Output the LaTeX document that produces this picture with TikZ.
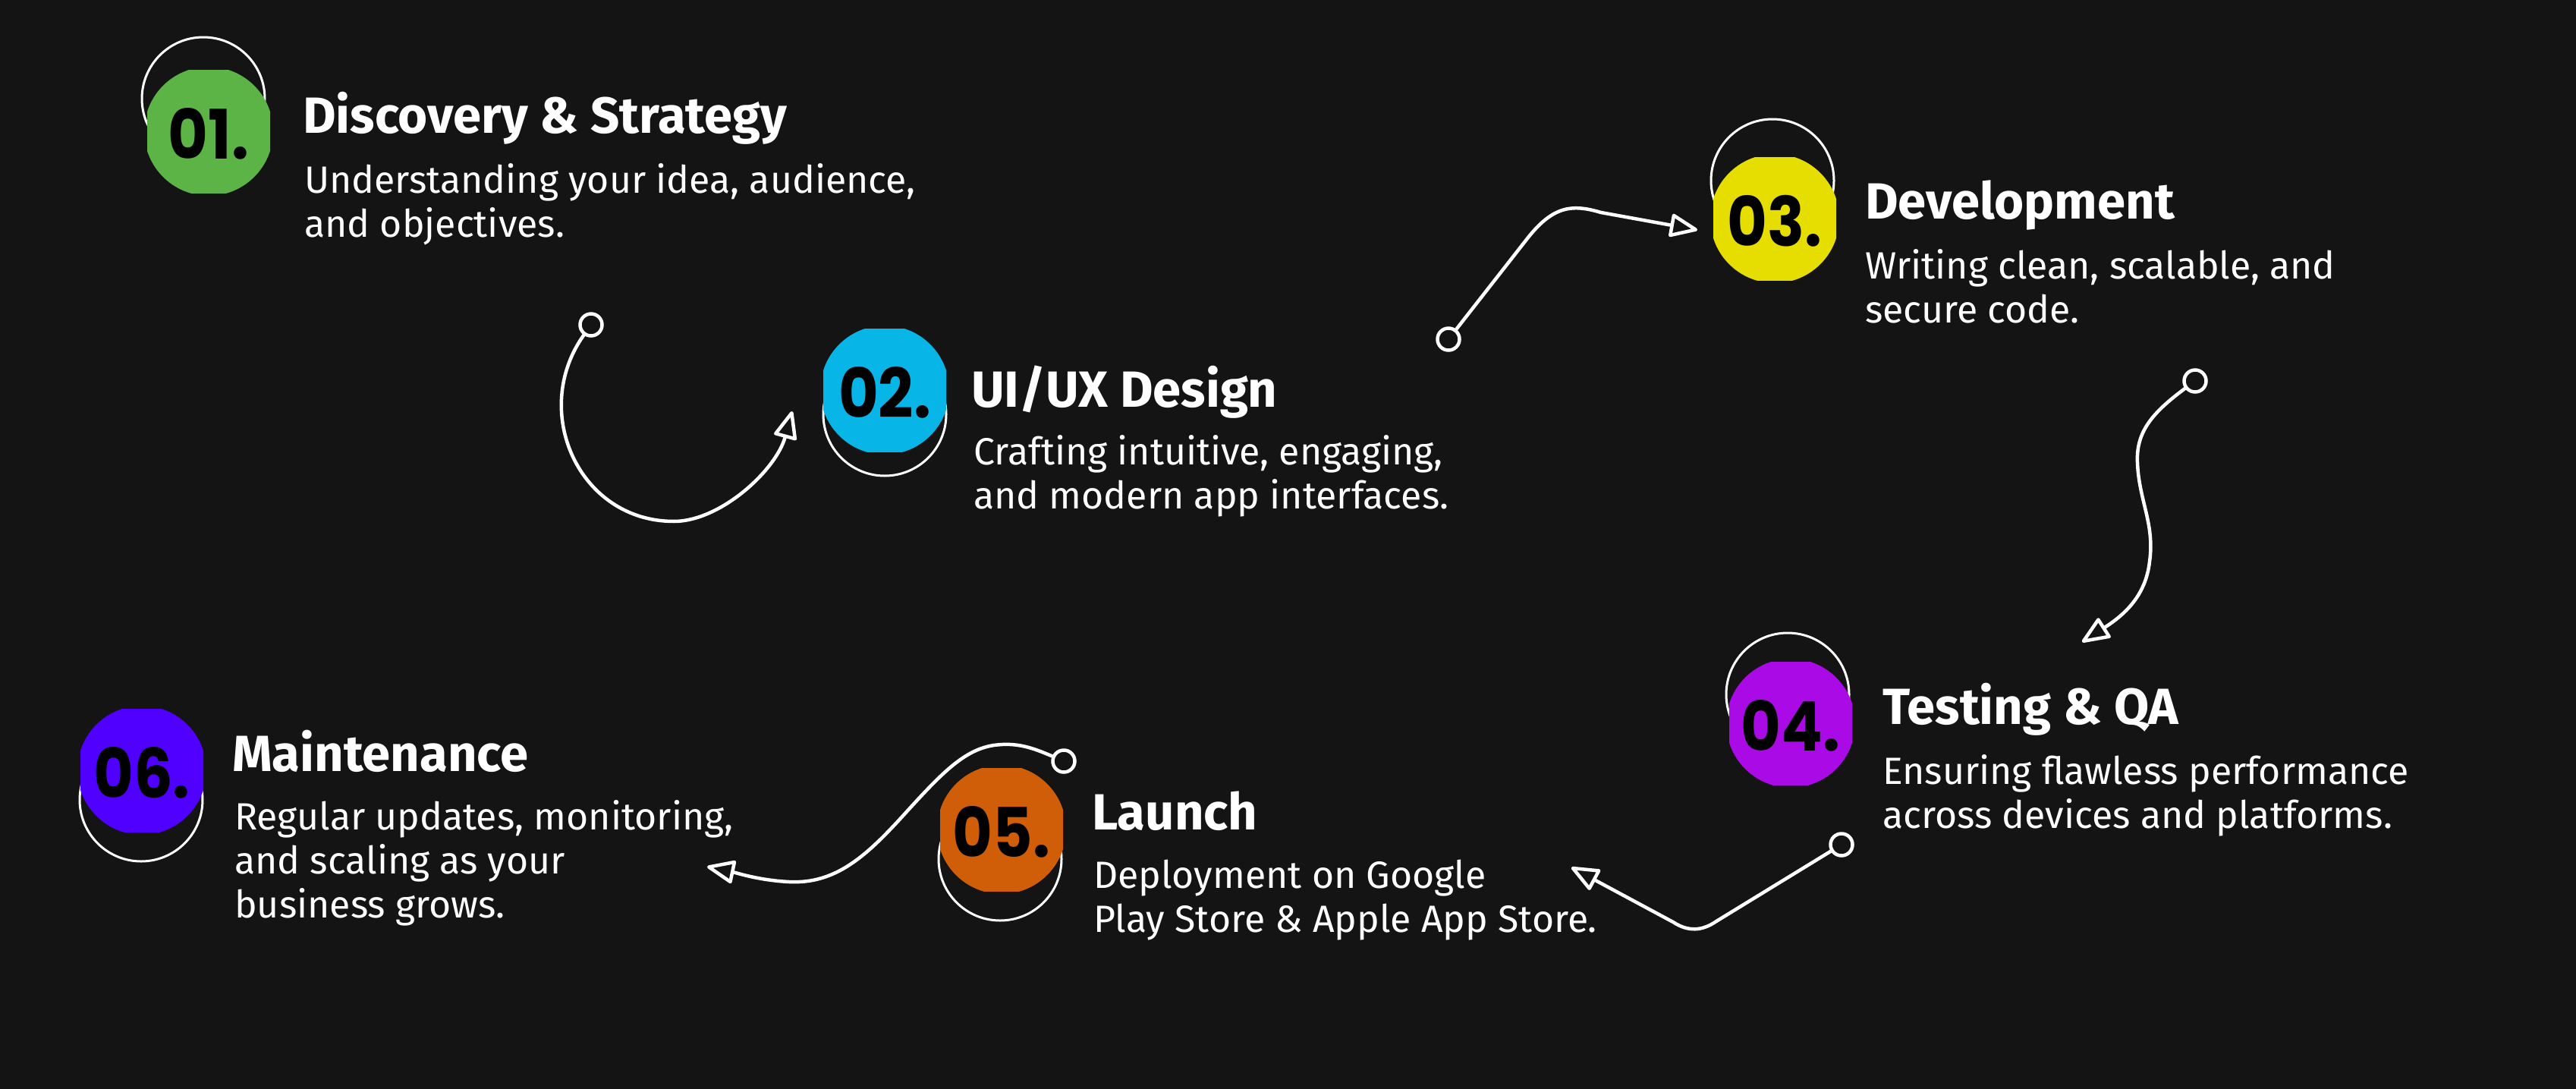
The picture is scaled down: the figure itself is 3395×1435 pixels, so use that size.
\documentclass[tikz,border=0pt]{standalone}
\usepackage{fontspec}
\setmainfont{Fira Sans}
\newfontfamily\titlefont{Fira Sans}
\newfontfamily\numfont{Poppins}[FakeStretch=0.9]
\usetikzlibrary{arrows.meta}
\definecolor{bg}{HTML}{141414}
\definecolor{c1}{HTML}{5DB446}
\definecolor{c2}{HTML}{07B6E6}
\definecolor{c3}{HTML}{E6DE00}
\definecolor{c4}{HTML}{AA0AE6}
\definecolor{c5}{HTML}{D05D08}
\definecolor{c6}{HTML}{5000FF}
\tikzset{
  pics/disc/.style={code={
    \begin{scope}
      \clip (-81,-81) rectangle (81,81);
      \fill[#1] (0,0) circle[radius=85pt];
    \end{scope}}},
  ring/.style={draw=white, line width=3pt},
  numtext/.style={inner sep=0pt, text=black, font=\numfont\bfseries\fontsize{90}{92}\selectfont},
  titletext/.style={anchor=base west, inner sep=0pt, text=white, font=\titlefont\bfseries\fontsize{67}{70}\selectfont},
  bodytext/.style={anchor=base west, inner sep=0pt, text=white, align=left, font=\fontsize{50}{58}\selectfont},
  dotnode/.style={circle, draw=white, fill=bg, line width=4.5pt, minimum size=29pt, inner sep=0pt},
  conn/.style={draw=white, line width=4.5pt, line cap=round, line join=round,
    -{Triangle[open, length=40pt, width=32pt, round]}},
}
\begin{document}
\begin{tikzpicture}[x=1pt, y=-1pt]
\fill[bg] (0,0) rectangle (3395,1435);
\useasboundingbox (0,0) rectangle (3395,1435);

% outline rings
\draw[ring] (268,130) circle[radius=81pt];
\draw[ring] (1166,546) circle[radius=81pt];
\draw[ring] (2336,238) circle[radius=81pt];
\draw[ring] (2356,915) circle[radius=81pt];
\draw[ring] (1318,1132) circle[radius=81pt];
\draw[ring] (186,1054) circle[radius=81pt];

% coloured discs
\pic at (275,173) {disc=c1};
\pic at (1166,514) {disc=c2};
\pic at (2339,288) {disc=c3};
\pic at (2360,953) {disc=c4};
\pic at (1320,1093) {disc=c5};
\pic at (187,1015) {disc=c6};

% numbers
\node[numtext] (n1) at (275,176) {01.};
\node[numtext] (n2) at (1166,517) {02.};
\node[numtext] (n3) at (2339,291) {03.};
\node[numtext] (n4) at (2360,956) {04.};
\node[numtext] (n5) at (1320,1096) {05.};
\node[numtext] (n6) at (187,1018) {06.};

% titles
\node[titletext] (t1) at (399,175) {Discovery \& Strategy};
\node[titletext] (t2) at (1280,536) {UI/UX Design};
\node[titletext] (t3) at (2458,288) {Development};
\node[titletext] (t4) at (2481,954) {Testing \& QA};
\node[titletext] (t5) at (1439,1093) {Launch};
\node[titletext] (t6) at (306,1016) {Maintenance};

% bodies (anchor = baseline of last line)
\node[bodytext] (b1) at (401,312) {Understanding your idea, audience,\\and objectives.};
\node[bodytext] (b2) at (1283,670) {Crafting intuitive, engaging,\\and modern app interfaces.};
\node[bodytext] (b3) at (2458,425) {Writing clean, scalable, and\\secure code.};
\node[bodytext] (b4) at (2481,1091) {Ensuring flawless performance\\across devices and platforms.};
\node[bodytext] (b5) at (1441,1228) {Deployment on Google\\Play Store \& Apple App Store.};
\node[bodytext] (b6) at (309,1209) {Regular updates, monitoring,\\and scaling as your\\business grows.};

% connector start dots
\node[dotnode] (d1) at (779,428) {};
\node[dotnode] (d2) at (1909,447) {};
\node[dotnode] (d3) at (2893,502) {};
\node[dotnode] (d4) at (2427,1113) {};
\node[dotnode] (d5) at (1402,1003) {};

% connector ends
\coordinate (e1) at (1044,542);
\coordinate (e2) at (2237,303);
\coordinate (e3) at (2744,846);
\coordinate (e4) at (2071,1143);
\coordinate (e5) at (932,1142);

\draw[conn] (d1) .. controls (698,542) and (763,687) .. (888,687) .. controls (950,687) and (1023,619) .. (e1);
\draw[conn] (d2) -- (2010,318) .. controls (2045,272) and (2070,268) .. (2110,280) -- (e2);
\draw[conn] (d3) .. controls (2835,545) and (2815,570) .. (2817,610) .. controls (2819,660) and (2840,690) .. (2833,740) .. controls (2828,785) and (2800,810) .. (e3);
\draw[conn] (d4) -- (2262,1214) .. controls (2243,1227) and (2225,1228) .. (2205,1215) -- (e4);
\draw[conn] (d5) .. controls (1360,985) and (1340,978) .. (1310,982) .. controls (1270,988) and (1240,1020) .. (1190,1075) .. controls (1140,1130) and (1100,1165) .. (1040,1162) .. controls (1000,1160) and (970,1150) .. (e5);
\end{tikzpicture}
\end{document}
